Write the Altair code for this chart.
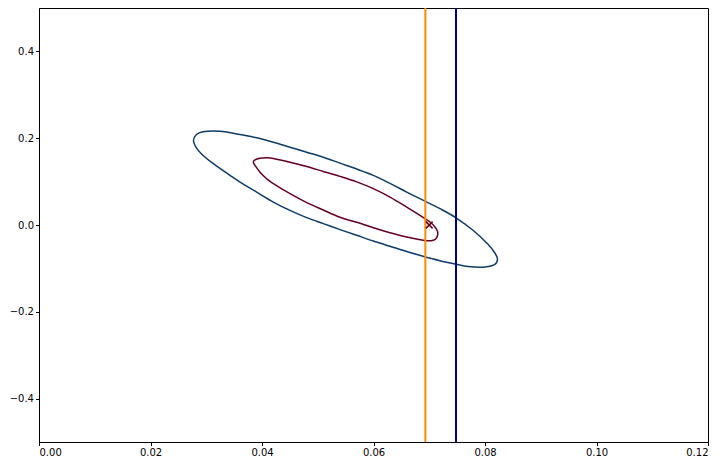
import altair as alt
import pandas as pd

# Contour (outer level), closed path
outer_x = [0.027713, 0.028251, 0.029417, 0.031390, 0.033363, 0.036054, 0.039049, 0.042027,
           0.045022, 0.048018, 0.050996, 0.053991, 0.056986, 0.059964, 0.062960, 0.065955,
           0.069238, 0.071928, 0.074798, 0.077848, 0.080538, 0.081794, 0.082242, 0.081704,
           0.079641, 0.076951, 0.074798, 0.071928, 0.068879, 0.065955, 0.062960, 0.059964,
           0.056986, 0.053991, 0.050996, 0.048018, 0.045022, 0.042027, 0.039049, 0.036054,
           0.034260, 0.031211, 0.029058, 0.028072]
outer_y = [0.1947, 0.2085, 0.2149, 0.2166, 0.2149, 0.2085, 0.2009, 0.1908,
           0.1793, 0.1678, 0.1563, 0.1425, 0.1290, 0.1143, 0.0959, 0.0759,
           0.0549, 0.0377, 0.0166, -0.0122, -0.0444, -0.0651, -0.0789, -0.0915,
           -0.0972, -0.0956, -0.0903, -0.0823, -0.0720, -0.0611, -0.0490, -0.0368,
           -0.0237, -0.0106, 0.0032, 0.0170, 0.0338, 0.0529, 0.0759, 0.0989,
           0.1143, 0.1418, 0.1648, 0.1809]

# Contour (inner level), closed path
inner_x = [0.038440, 0.038744, 0.039641, 0.040843, 0.042027, 0.045022, 0.048018, 0.050996,
           0.053991, 0.056986, 0.059964, 0.062960, 0.065955, 0.068341, 0.070134, 0.071031,
           0.071516, 0.071337, 0.070727, 0.069238, 0.065955, 0.062960, 0.059964, 0.056986,
           0.053991, 0.050996, 0.048018, 0.045022, 0.042027, 0.040843, 0.039641, 0.038744]
inner_y = [0.1448, 0.1503, 0.1540, 0.1549, 0.1533, 0.1448, 0.1349, 0.1234,
           0.1120, 0.0993, 0.0837, 0.0644, 0.0414, 0.0223, 0.0069, -0.0046,
           -0.0161, -0.0290, -0.0352, -0.0359, -0.0278, -0.0179, -0.0064, 0.0062,
           0.0177, 0.0345, 0.0517, 0.0722, 0.0952, 0.1067, 0.1218, 0.1372]

marker_x = [0.070]
marker_y = [0.0]

vline_x = [0.0693, 0.0748]
vline_color = ["#ff8c00", "#000080"]

outer_df = pd.DataFrame({"x": outer_x, "y": outer_y, "i": range(len(outer_x))})
inner_df = pd.DataFrame({"x": inner_x, "y": inner_y, "i": range(len(inner_x))})
marker_df = pd.DataFrame({"x": marker_x, "y": marker_y})
vline_df = pd.DataFrame({"x": vline_x, "c": vline_color})

xscale = alt.Scale(domain=[0, 0.12], nice=False, zero=False)
yscale = alt.Scale(domain=[-0.5, 0.5], nice=False, zero=False)
xaxis = alt.Axis(values=[0, 0.02, 0.04, 0.06, 0.08, 0.10, 0.12], format=".2f", title=None)
yaxis = alt.Axis(values=[-0.4, -0.2, 0.0, 0.2, 0.4], format=".1f", title=None)

outer = alt.Chart(outer_df).mark_line(
    color="#0d3b6b", strokeWidth=1.5, interpolate="cardinal-closed"
).encode(
    x=alt.X("x:Q", scale=xscale, axis=xaxis),
    y=alt.Y("y:Q", scale=yscale, axis=yaxis),
    order="i:Q",
)
inner = alt.Chart(inner_df).mark_line(
    color="#67001f", strokeWidth=1.5, interpolate="cardinal-closed"
).encode(
    x=alt.X("x:Q", scale=xscale),
    y=alt.Y("y:Q", scale=yscale),
    order="i:Q",
)
vlines = alt.Chart(vline_df).mark_rule(strokeWidth=2).encode(
    x=alt.X("x:Q", scale=xscale),
    color=alt.Color("c:N", scale=None),
)
marker = alt.Chart(marker_df).mark_point(
    shape="M-1,-1L1,1M-1,1L1,-1", size=45, filled=False, strokeWidth=1.5, color="#67001f", opacity=1
).encode(
    x=alt.X("x:Q", scale=xscale),
    y=alt.Y("y:Q", scale=yscale),
)

chart = (outer + inner + vlines + marker).properties(
    width=669, height=434,
    autosize=alt.AutoSizeParams(type="none"),
    padding={"left": 31, "top": 0, "right": 10, "bottom": 24},
).configure_view(
    stroke="black", strokeWidth=1
).configure_axis(
    grid=False, domainColor="black", tickColor="black", tickSize=3.5,
    labelFont="DejaVu Sans", labelFontSize=10, labelColor="black", labelPadding=2,
    domainWidth=1, tickWidth=1,
)

chart.save("out.html", embed_options={"renderer": "svg", "actions": False})
